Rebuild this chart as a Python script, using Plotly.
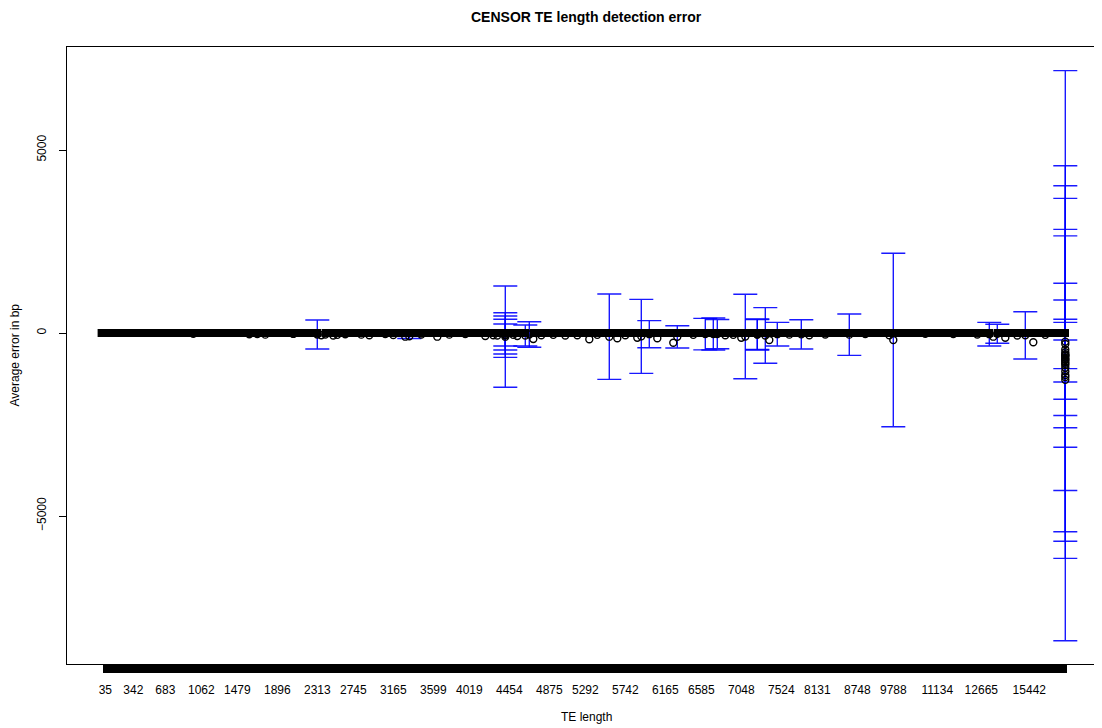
import plotly.graph_objects as go

# ---------------- data ----------------
te_length = [
    35, 78, 121, 160, 214, 251, 297, 342, 388, 425,
    467, 512, 556, 598, 641, 683, 724, 769, 812, 851,
    893, 940, 978, 1021, 1062, 1108, 1151, 1196, 1240, 1283,
    1329, 1384, 1431, 1479, 1520, 1561, 1606, 1648, 1689, 1731,
    1772, 1814, 1857, 1896, 1938, 1981, 2019, 2064, 2104, 2147,
    2190, 2231, 2272, 2313, 2361, 2409, 2452, 2501, 2548, 2596,
    2649, 2698, 2745, 2786, 2829, 2871, 2912, 2953, 2996, 3040,
    3081, 3124, 3165, 3207, 3251, 3296, 3338, 3381, 3425, 3470,
    3512, 3556, 3599, 3648, 3694, 3740, 3786, 3830, 3879, 3925,
    3972, 4019, 4061, 4108, 4150, 4196, 4237, 4281, 4324, 4368,
    4410, 4454, 4496, 4537, 4580, 4621, 4664, 4705, 4749, 4790,
    4832, 4875, 4921, 4968, 5011, 5057, 5104, 5151, 5198, 5246,
    5292, 5336, 5381, 5427, 5469, 5516, 5560, 5607, 5651, 5698,
    5742, 5789, 5830, 5874, 5917, 5961, 6003, 6044, 6087, 6124,
    6165, 6211, 6258, 6304, 6352, 6399, 6447, 6493, 6540, 6585,
    6630, 6678, 6726, 6771, 6818, 6863, 6910, 6956, 7003, 7048,
    7094, 7141, 7189, 7236, 7283, 7331, 7379, 7428, 7476, 7524,
    7591, 7663, 7738, 7806, 7875, 7944, 8012, 8070, 8131, 8196,
    8262, 8330, 8398, 8467, 8537, 8604, 8668, 8709, 8748, 8861,
    8985, 9102, 9230, 9361, 9488, 9610, 9701, 9788, 9901, 10034,
    10155, 10287, 10413, 10541, 10665, 10789, 10912, 11027, 11134, 11262,
    11398, 11539, 11671, 11812, 11955, 12097, 12238, 12379, 12521, 12665,
    12889, 13110, 13342, 13578, 13819, 14054, 14290, 14531, 14772, 15008,
    15227, 15442, 15703, 16021, 16388, 16856, 17412, 18105, 19270, 21032,
    24567,
]

mean_error = [
    0, 0, 0, 0, 0, 0, 0, 0, 0, 0,
    0, 0, 0, 0, 0, 0, 0, 0, 0, 0,
    0, 0, -20, 0, 0, 0, 0, 0, 0, 0,
    0, 0, 0, 0, 0, 0, -35, 0, -30, 0,
    -45, 0, 0, 0, 0, 0, 0, -25, 0, 0,
    0, 0, 0, -41, -60, -40, 0, -70, -50, 0,
    -35, 0, 0, 0, -45, 0, -60, 0, 0, 0,
    -30, 0, -55, 0, 0, -100, -90, 0, 0, -40,
    0, 0, 0, -100, 0, 0, -45, 0, 0, 0,
    -30, 0, 0, 0, 0, -80, 0, -60, -70, 0,
    -100, 0, -50, -80, 0, -68, -41, -164, 0, -60,
    0, 0, -50, 0, 0, -70, 0, 0, -60, 0,
    0, -172, 0, -50, 0, 0, -100, 0, -145, 0,
    -60, 0, 0, -128, -91, 0, -32, 0, -145, 0,
    0, 0, -265, -105, 0, 0, 0, -50, 0, 0,
    -30, 0, -27, -30, 0, -60, 0, -50, 0, -128,
    -95, 0, 0, -41, 0, -68, -191, 0, -32, 0,
    0, -45, 0, 0, -37, 0, -60, 0, 0, 0,
    -40, 0, 0, 0, 0, 0, -45, 0, 0, 0,
    -30, 0, 0, 0, 0, 0, -60, -190, 0, 0,
    0, 0, 0, 0, 0, -20, 0, 0, 0, 0,
    0, 0, -30, 0, 0, 0, 0, 0, -40, 0,
    0, -32, -100, -21, 0, -128, 0, 0, -70, 0,
    -64, 0, -254, 0, 0, -50, 0, 0, 0, 0,
    -620,
]

sd_error = [
    0, 0, 0, 0, 0, 0, 0, 0, 0, 0,
    0, 0, 0, 0, 0, 0, 0, 0, 0, 0,
    0, 0, 0, 0, 0, 0, 0, 0, 0, 0,
    0, 0, 0, 0, 0, 0, 0, 0, 0, 0,
    0, 0, 0, 0, 0, 0, 0, 0, 0, 0,
    0, 0, 0, 396, 0, 0, 0, 0, 0, 0,
    0, 0, 0, 0, 0, 0, 0, 0, 0, 0,
    0, 0, 0, 0, 0, 0, 60, 0, 0, 0,
    0, 0, 0, 0, 0, 0, 0, 0, 0, 0,
    0, 0, 0, 0, 0, 0, 0, 0, 0, 0,
    1384, 0, 0, 0, 0, 287, 350, 0, 0, 0,
    0, 0, 0, 0, 0, 0, 0, 0, 0, 0,
    0, 0, 0, 0, 0, 0, 1166, 0, 0, 0,
    0, 0, 0, 0, 1011, 0, 369, 0, 0, 0,
    0, 0, 0, 305, 0, 0, 0, 0, 0, 0,
    430, 0, 437, 400, 0, 0, 0, 0, 0, 0,
    1153, 0, 0, 423, 0, 760, 0, 0, 323, 0,
    0, 0, 0, 0, 400, 0, 0, 0, 0, 0,
    0, 0, 0, 0, 0, 0, 565, 0, 0, 0,
    0, 0, 0, 0, 0, 0, 0, 2370, 0, 0,
    0, 0, 0, 0, 0, 0, 0, 0, 0, 0,
    0, 0, 0, 0, 0, 0, 0, 0, 0, 0,
    0, 323, 0, 260, 0, 0, 0, 0, 0, 0,
    646, 0, 0, 0, 0, 0, 0, 0, 0, 0,
    7790,
]

# additional rows that share a TE length with a row above
extra_length = [4410, 4410, 4410, 4410, 7236,
                24567, 24567, 24567, 24567, 24567, 24567, 24567, 24567, 24567, 24567,
                24567, 24567, 24567, 24567, 24567, 24567, 24567]
extra_mean = [-55, -55, -45, -55, -40,
              -794, -832, -877, -737, -235, -616, -676, -716, -525, -582,
              -1200, -1050, -950, -450, -300, -1280, -1150]
extra_sd = [610, 519, 419, 300, 410,
            5365, 4857, 4555, 3568, 2888, 1974, 1578, 1093, 815, 391,
            0, 0, 0, 0, 0, 0, 0]

tick_labels = [35, 342, 683, 1062, 1479, 1896, 2313, 2745, 3165, 3599, 4019,
               4454, 4875, 5292, 5742, 6165, 6585, 7048, 7524, 8131, 8748,
               9788, 11134, 12665, 15442]
y_ticks = [-5000, 0, 5000]

# ---------------- build ----------------
categories = sorted(set(te_length + extra_length))
pos = {v: i for i, v in enumerate(categories)}

all_len = te_length + extra_length
all_mean = mean_error + extra_mean
all_sd = sd_error + extra_sd

eb_x = [pos[l] for l, s in zip(all_len, all_sd) if s > 0]
eb_y = [m for m, s in zip(all_mean, all_sd) if s > 0]
eb_s = [s for s in all_sd if s > 0]

zero_x = [pos[l] for l, m in zip(all_len, all_mean) if m == 0]
zero_y = [m for m in all_mean if m == 0]
dev_x = [pos[l] for l, m in zip(all_len, all_mean) if m != 0]
dev_y = [m for m in all_mean if m != 0]

FONT = "Liberation Sans, Arial, Helvetica, sans-serif"

# layout geometry (pixels; the page body adds an 8px margin)
BODY = 8
W, H = 1102 - BODY, 728 - BODY
PL = 67 - BODY
PT = 47 - BODY
PB = H - (664 - BODY)
FIRST_PX = 105.3 - BODY
PX_PER_CAT = 4.0
x_lo = -(FIRST_PX - PL) / PX_PER_CAT
x_hi = (W - FIRST_PX) / PX_PER_CAT
PX_PER_UNIT = 183.0 / 5000.0
ZERO_PX = 333.0 - BODY
y_hi = (ZERO_PX - PT) / PX_PER_UNIT
y_lo = -((H - PB) - ZERO_PX) / PX_PER_UNIT
XC = (586 - BODY - PL) / (W - PL)

fig = go.Figure()
fig.add_trace(go.Scatter(
    x=eb_x, y=eb_y, mode="markers",
    marker=dict(size=1, color="rgba(0,0,0,0)"),
    error_y=dict(type="data", array=eb_s, symmetric=True,
                 color="rgba(0,0,255,0.9)", thickness=1.4, width=12),
    hoverinfo="skip", showlegend=False,
))
# points on the zero line: so densely packed that they merge into one solid band
fig.add_trace(go.Scatter(
    x=zero_x, y=zero_y, mode="markers",
    marker=dict(symbol="line-ew", size=11, color="black",
                line=dict(width=8, color="black")),
    showlegend=False,
))
fig.add_trace(go.Scatter(
    x=dev_x, y=dev_y, mode="markers",
    marker=dict(symbol="circle-open", size=7, color="black",
                line=dict(width=1.4, color="black")),
    showlegend=False,
))

ticktext = [str(v) if v in tick_labels else "" for v in categories]

fig.update_layout(
    width=W, height=H,
    margin=dict(l=PL, r=0, t=PT, b=PB, pad=0, autoexpand=False),
    paper_bgcolor="white", plot_bgcolor="white",
    font=dict(family=FONT, size=12, color="black"),
    showlegend=False,
    xaxis=dict(
        range=[x_lo, x_hi], tickmode="array", automargin=False,
        tickvals=list(range(len(categories))), ticktext=ticktext,
        ticks="outside", ticklen=8, tickwidth=4, tickcolor="black",
        showline=True, linecolor="black", linewidth=1, mirror=True,
        showgrid=False, zeroline=False, ticklabelstandoff=7,
        tickfont=dict(family=FONT, size=12, color="black"),
    ),
    yaxis=dict(
        range=[y_lo, y_hi], tickmode="array", automargin=False,
        tickvals=y_ticks, ticktext=["\u22125000", "0", "5000"],
        tickangle=-90, ticks="outside", ticklen=7, tickwidth=1, tickcolor="black",
        showline=True, linecolor="black", linewidth=1, mirror=False,
        showgrid=False, zeroline=False, ticklabelstandoff=8,
        tickfont=dict(family=FONT, size=12, color="black"),
    ),
    annotations=[
        dict(text="<b>CENSOR TE length detection error</b>", xref="paper", yref="paper",
             x=XC, y=1, yanchor="middle", yshift=30, showarrow=False,
             font=dict(family=FONT, size=14, color="black")),
        dict(text="TE length", xref="paper", yref="paper",
             x=XC, y=0, yanchor="middle", yshift=-53, showarrow=False,
             font=dict(family=FONT, size=12, color="black")),
        dict(text="Average error in bp", xref="paper", yref="paper",
             x=0, y=0.5, xanchor="center", yanchor="middle", xshift=-53, textangle=-90,
             showarrow=False, font=dict(family=FONT, size=12, color="black")),
    ],
)

fig.write_html("out.html")
